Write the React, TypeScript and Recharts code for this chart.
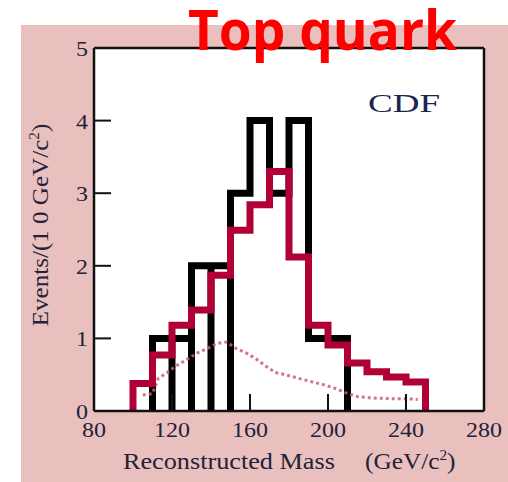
import { ComposedChart, Line, XAxis, YAxis, CartesianGrid } from 'recharts'

// CDF top quark candidates, 10 GeV bins
const dataBins = [110, 120, 130, 140, 150, 160, 170, 180, 190, 200]
const dataCounts = [1, 1, 2, 2, 3, 4, 3, 4, 1, 1]

const fitBins = [100, 110, 120, 130, 140, 150, 160, 170, 180, 190, 200, 210, 220, 230, 240]
const fitCounts = [0.38, 0.77, 1.18, 1.39, 1.87, 2.49, 2.84, 3.3, 2.12, 1.18, 0.91, 0.66, 0.54, 0.47, 0.4]

const bgMass = [105, 110, 113, 117, 122, 127, 133, 138, 143, 148, 153, 158, 163, 168, 173, 178, 185, 192, 198, 205, 210, 215, 222, 232, 240, 246]
const bgCounts = [0.22, 0.24, 0.45, 0.52, 0.62, 0.7, 0.8, 0.86, 0.93, 0.95, 0.86, 0.8, 0.72, 0.62, 0.53, 0.5, 0.45, 0.4, 0.36, 0.3, 0.24, 0.2, 0.18, 0.17, 0.17, 0.16]

const xTicks = [80, 120, 160, 200, 240, 280]
const yTicks = [0, 1, 2, 3, 4, 5]
const binWidth = 10
const outlinedBins = 4 // first bins drawn as closed boxes

const stepPoints = (bins: number[], counts: number[]) => {
  const pts = [{ x: bins[0], y: 0 }]
  bins.forEach((b, i) => pts.push({ x: b, y: counts[i] }))
  pts.push({ x: bins[bins.length - 1] + binWidth, y: 0 })
  return pts
}

const blackStep = stepPoints(dataBins, dataCounts)
const redStep = stepPoints(fitBins, fitCounts)
const bgLine = bgMass.map((m, i) => ({ x: m, y: bgCounts[i] }))
const blackEdges = dataBins.slice(0, outlinedBins).map((b, i) => [
  { x: b + binWidth, y: 0 },
  { x: b + binWidth, y: Math.min(dataCounts[i], dataCounts[i + 1]) },
])

const serif = '"Liberation Serif", "DejaVu Serif", serif'
const ink = '#22223a'

const XTick = ({ x, y, payload }: any) => (
  <text transform={`translate(${x},${y + 17.5}) scale(1.2,1)`} textAnchor="middle" fontFamily={serif} fontSize={20} fill={ink}>
    {payload.value}
  </text>
)

const YTick = ({ x, y, payload }: any) => (
  <text transform={`translate(${x},${y + 8}) scale(1.2,1)`} textAnchor="end" fontFamily={serif} fontSize={20} fill={ink}>
    {payload.value}
  </text>
)

export default function App() {
  return (
    <div style={{ position: 'fixed', left: 0, top: 0, width: 508, height: 482, background: '#fff' }}>
      <div style={{ position: 'absolute', left: 21, top: 25, width: 487, height: 457, background: '#e9c0be' }} />
      <div style={{ position: 'absolute', left: 0, top: 0 }}>
        <ComposedChart width={508} height={482} margin={{ top: 47, right: 23, bottom: 31, left: 34 }}>
          <CartesianGrid fill="#fff" horizontal={false} vertical={false} />
          <XAxis
            type="number"
            dataKey="x"
            domain={[80, 280]}
            ticks={xTicks}
            height={40}
            tickSize={-17}
            tickMargin={25}
            tick={<XTick />}
            axisLine={{ stroke: '#111', strokeWidth: 2.5 }}
            tickLine={{ stroke: '#111', strokeWidth: 2 }}
            allowDataOverflow
          />
          <XAxis
            xAxisId="top"
            orientation="top"
            type="number"
            domain={[80, 280]}
            ticks={xTicks}
            height={1}
            tickSize={-17}
            tick={false}
            axisLine={{ stroke: '#111', strokeWidth: 2.5 }}
            tickLine={{ stroke: '#111', strokeWidth: 2 }}
          />
          <YAxis
            type="number"
            domain={[0, 5]}
            ticks={yTicks}
            width={60}
            tickSize={-17}
            tickMargin={23}
            tick={<YTick />}
            axisLine={{ stroke: '#111', strokeWidth: 2.5 }}
            tickLine={{ stroke: '#111', strokeWidth: 2 }}
            allowDataOverflow
          />
          <YAxis
            yAxisId="right"
            orientation="right"
            type="number"
            domain={[0, 5]}
            ticks={yTicks}
            width={1}
            tickSize={-17}
            tick={false}
            axisLine={{ stroke: '#111', strokeWidth: 2.5 }}
            tickLine={{ stroke: '#111', strokeWidth: 2 }}
          />
          <Line data={blackStep} dataKey="y" type="stepAfter" stroke="#000" strokeWidth={7} dot={false} activeDot={false} isAnimationActive={false} strokeLinejoin="miter" />
          {blackEdges.map((seg, i) => (
            <Line key={i} data={seg} dataKey="y" type="linear" stroke="#000" strokeWidth={7} dot={false} activeDot={false} isAnimationActive={false} />
          ))}
          <Line data={bgLine} dataKey="y" type="linear" stroke="#c8606e" strokeOpacity={0.85} strokeWidth={3} strokeDasharray="3 3" dot={false} activeDot={false} isAnimationActive={false} />
          <Line data={redStep} dataKey="y" type="stepAfter" stroke="#b00036" strokeWidth={7} dot={false} activeDot={false} isAnimationActive={false} strokeLinejoin="miter" />
        </ComposedChart>
      </div>
      <svg width={508} height={482} style={{ position: 'absolute', left: 0, top: 0, pointerEvents: 'none' }}>
        <text x={188} y={50} fontFamily='"Open Sans", "Liberation Sans", sans-serif' fontWeight={700} fontSize={55} fill="#ff0000" textLength={269} lengthAdjust="spacingAndGlyphs">
          Top quark
        </text>
        <text x={368} y={112} fontFamily={serif} fontSize={25} fill="#1c2450" textLength={72} lengthAdjust="spacingAndGlyphs">
          CDF
        </text>
        <text transform="translate(123,469) scale(1.14,1)" fontFamily={serif} fontSize={23} fill={ink}>
          Reconstructed Mass
        </text>
        <text transform="translate(365,469) scale(1.1,1)" fontFamily={serif} fontSize={23} fill={ink}>
          (GeV/c<tspan dy={-9} fontSize={14}>2</tspan><tspan dy={9}>)</tspan>
        </text>
        <text transform="translate(48,225) rotate(-90) scale(1.09,1)" textAnchor="middle" fontFamily={serif} fontSize={23} fill={ink}>
          Events/(1 0 GeV/c<tspan dy={-9} fontSize={14}>2</tspan><tspan dy={9}>)</tspan>
        </text>
      </svg>
    </div>
  )
}
